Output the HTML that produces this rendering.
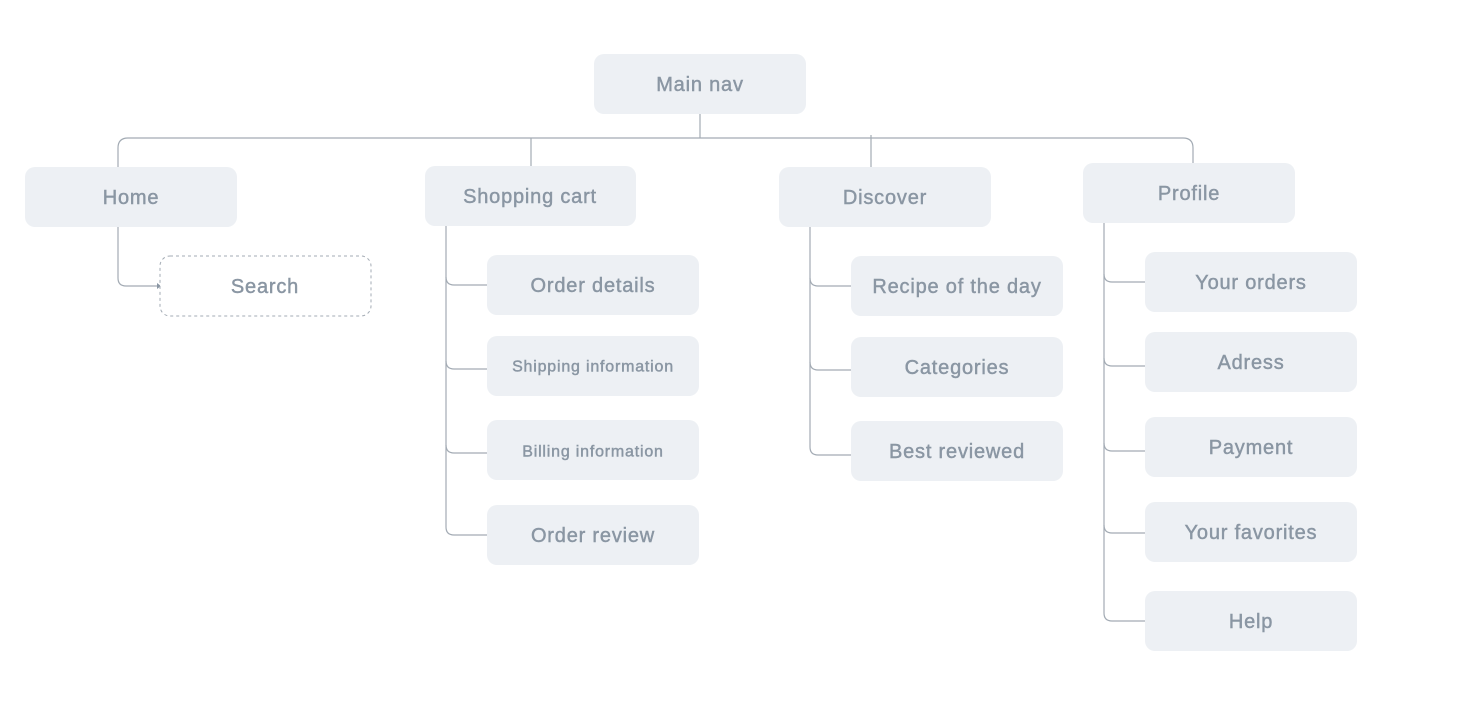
<!DOCTYPE html>
<html><head><meta charset="utf-8"><style>
html,body{margin:0;padding:0;background:#fff;}
svg{display:block;}
text{font-family:"Liberation Sans",sans-serif;fill:#8a96a3;stroke:#8a96a3;stroke-width:0.45px;text-anchor:middle;dominant-baseline:central;letter-spacing:0.8px;}
</style></head><body>
<svg width="1457" height="706" viewBox="0 0 1457 706">
<g fill="none" stroke="#a3abb4" stroke-width="1.2">
<line x1="700" y1="114" x2="700" y2="138"/>
<path d="M118 167 V148 Q118 138 128 138 H1183 Q1193 138 1193 148 V163"/>
<line x1="531" y1="138" x2="531" y2="166"/>
<line x1="871" y1="135" x2="871" y2="167"/>
<path d="M118 227 V278 Q118 286 126 286 H158"/>
<path d="M446 226 V527 Q446 535 454 535 H487"/>
<path d="M446 277 Q446 285 454 285 H487"/>
<path d="M446 361 Q446 369 454 369 H487"/>
<path d="M446 445 Q446 453 454 453 H487"/>
<path d="M810 227 V447 Q810 455 818 455 H851"/>
<path d="M810 278 Q810 286 818 286 H851"/>
<path d="M810 362 Q810 370 818 370 H851"/>
<path d="M1104 223 V613 Q1104 621 1112 621 H1145"/>
<path d="M1104 274 Q1104 282 1112 282 H1145"/>
<path d="M1104 358 Q1104 366 1112 366 H1145"/>
<path d="M1104 443 Q1104 451 1112 451 H1145"/>
<path d="M1104 525 Q1104 533 1112 533 H1145"/>
</g>
<path d="M157 283 L161 286 L157 289 Z" fill="#8a96a3"/>
<g fill="#edf0f4">
<rect x="594" y="54" width="212" height="60" rx="10"/>
<rect x="25" y="167" width="212" height="60" rx="10"/>
<rect x="425" y="166" width="211" height="60" rx="10"/>
<rect x="487" y="255" width="212" height="60" rx="10"/>
<rect x="487" y="336" width="212" height="60" rx="10"/>
<rect x="487" y="420" width="212" height="60" rx="10"/>
<rect x="487" y="505" width="212" height="60" rx="10"/>
<rect x="779" y="167" width="212" height="60" rx="10"/>
<rect x="851" y="256" width="212" height="60" rx="10"/>
<rect x="851" y="337" width="212" height="60" rx="10"/>
<rect x="851" y="421" width="212" height="60" rx="10"/>
<rect x="1083" y="163" width="212" height="60" rx="10"/>
<rect x="1145" y="252" width="212" height="60" rx="10"/>
<rect x="1145" y="332" width="212" height="60" rx="10"/>
<rect x="1145" y="417" width="212" height="60" rx="10"/>
<rect x="1145" y="502" width="212" height="60" rx="10"/>
<rect x="1145" y="591" width="212" height="60" rx="10"/>
</g>
<rect x="160" y="256" width="211" height="60" rx="10" fill="#fff" stroke="#a3abb4" stroke-width="1" stroke-dasharray="3 3"/>
<g font-size="20">
<text x="700" y="85">Main nav</text>
<text x="131" y="198">Home</text>
<text x="265" y="287">Search</text>
<text x="530" y="197">Shopping cart</text>
<text x="593" y="286">Order details</text>
<text x="593" y="536">Order review</text>
<text x="885" y="198">Discover</text>
<text x="957" y="287">Recipe of the day</text>
<text x="957" y="368">Categories</text>
<text x="957" y="452">Best reviewed</text>
<text x="1189" y="194">Profile</text>
<text x="1251" y="283">Your orders</text>
<text x="1251" y="363">Adress</text>
<text x="1251" y="448">Payment</text>
<text x="1251" y="533">Your favorites</text>
<text x="1251" y="622">Help</text>
</g>
<g font-size="16">
<text x="593" y="367">Shipping information</text>
<text x="593" y="452">Billing information</text>
</g>
</svg>
</body></html>
